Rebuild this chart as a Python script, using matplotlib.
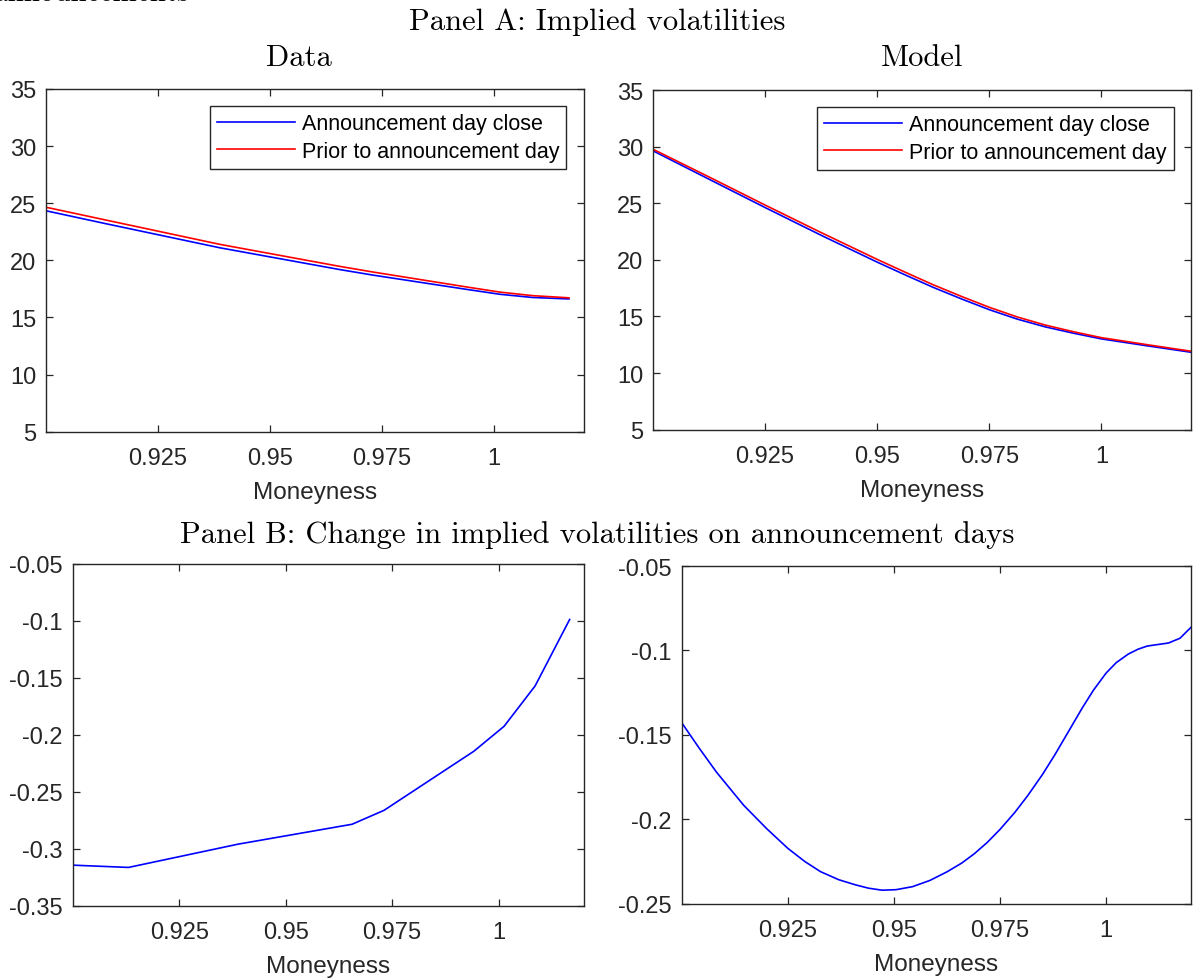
import matplotlib
matplotlib.use("Agg")
import matplotlib.pyplot as plt

# =========================
# DATA
# =========================
# Panel A, data
mny_data = [0.9, 0.9131, 0.9388, 0.9656, 0.9731, 0.9942, 1.0013, 1.0086, 1.0167]
iv_data_close = [24.34, 23.23, 21.10, 19.19, 18.70, 17.44, 17.03, 16.75, 16.62]
iv_data_prior = [24.65, 23.55, 21.40, 19.47, 18.97, 17.65, 17.22, 16.91, 16.72]

# Panel A, model
mny_model = [0.9, 0.9125, 0.925, 0.9375, 0.95, 0.9563, 0.9625, 0.9688, 0.975,
             0.9813, 0.9875, 0.9938, 1.0, 1.01, 1.02]
iv_model_close = [29.63, 27.12, 24.62, 22.17, 19.80, 18.66, 17.57, 16.55, 15.60,
                  14.76, 14.08, 13.52, 13.02, 12.42, 11.84]
iv_model_prior = [29.77, 27.32, 24.84, 22.41, 20.04, 18.90, 17.80, 16.77, 15.81,
                  14.95, 14.24, 13.65, 13.13, 12.52, 11.93]

# Panel B, change on announcement days
d_iv_data = [-0.3144, -0.3164, -0.2960, -0.2785, -0.2663, -0.2144, -0.1925, -0.1570, -0.0987]

mny_model_b = [0.9, 0.9041, 0.9082, 0.9146, 0.92, 0.925, 0.929, 0.9327, 0.937, 0.9409,
               0.944, 0.9472, 0.9505, 0.9544, 0.9585, 0.9626, 0.966, 0.9689, 0.972, 0.975,
               0.9785, 0.9815, 0.985, 0.9879, 0.991, 0.9943, 0.997, 1.0, 1.0024, 1.0052,
               1.0075, 1.0097, 1.0147, 1.0174, 1.02]
d_iv_model = [-0.1428, -0.1578, -0.1721, -0.1917, -0.2055, -0.2172, -0.2250, -0.2310,
              -0.2358, -0.2388, -0.2408, -0.2420, -0.2417, -0.2399, -0.2362, -0.2310,
              -0.2259, -0.2205, -0.2137, -0.2060, -0.1959, -0.1861, -0.1735, -0.1619,
              -0.1486, -0.1344, -0.1236, -0.1134, -0.1072, -0.1022, -0.0993, -0.0974,
              -0.0956, -0.0928, -0.0863]

xticks = [0.925, 0.95, 0.975, 1.0]
xtick_labels = ["0.925", "0.95", "0.975", "1"]
yticks_a = [5, 10, 15, 20, 25, 30, 35]
yticks_a_labels = ["5", "10", "15", "20", "25", "30", "35"]
yticks_b_data = [-0.35, -0.3, -0.25, -0.2, -0.15, -0.1, -0.05]
yticks_b_data_labels = ["-0.35", "-0.3", "-0.25", "-0.2", "-0.15", "-0.1", "-0.05"]
yticks_b_model = [-0.25, -0.2, -0.15, -0.1, -0.05]
yticks_b_model_labels = ["-0.25", "-0.2", "-0.15", "-0.1", "-0.05"]

legend_labels = ["Announcement day close", "Prior to announcement day"]

# =========================
# STYLE
# =========================
W, H = 1193, 979
dark = (0.15, 0.15, 0.15)
sans = "Liberation Sans"
serif = "cmr10"
plt.rcParams["font.family"] = sans


def px_box(left, top, right, bottom):
    return [left / W, 1 - bottom / H, (right - left) / W, (bottom - top) / H]


def style_axes(ax, yticks, ylabels, ylim):
    ax.set_xlim(0.9, 1.02)
    ax.set_ylim(*ylim)
    ax.set_xticks(xticks)
    ax.set_xticklabels(xtick_labels)
    ax.set_yticks(yticks)
    ax.set_yticklabels(ylabels)
    ax.tick_params(direction="in", length=5, width=0.9, colors=dark, labelsize=17,
                   top=True, right=True)
    ax.tick_params(axis="x", pad=11)
    ax.tick_params(axis="y", pad=7)
    for s in ax.spines.values():
        s.set_color(dark)
        s.set_linewidth(1.0)
    ax.set_xlabel("Moneyness", fontsize=17.5, color=dark, labelpad=8.5)


fig = plt.figure(figsize=(W / 100, H / 100), dpi=100)

ax1 = fig.add_axes(px_box(46, 90, 583.7, 432.7))
ax2 = fig.add_axes(px_box(653, 91, 1191, 430.7))
ax3 = fig.add_axes(px_box(72.7, 565, 583.7, 906.7))
ax4 = fig.add_axes(px_box(681.7, 567, 1191, 904.7))

ax1.plot(mny_data, iv_data_close, color="blue", lw=1.2, label=legend_labels[0])
ax1.plot(mny_data, iv_data_prior, color="red", lw=1.2, label=legend_labels[1])
ax2.plot(mny_model, iv_model_close, color="blue", lw=1.2, label=legend_labels[0])
ax2.plot(mny_model, iv_model_prior, color="red", lw=1.2, label=legend_labels[1])
ax3.plot(mny_data, d_iv_data, color="blue", lw=1.2)
ax4.plot(mny_model_b, d_iv_model, color="blue", lw=1.2)

style_axes(ax1, yticks_a, yticks_a_labels, (5, 35))
style_axes(ax2, yticks_a, yticks_a_labels, (5, 35))
style_axes(ax3, yticks_b_data, yticks_b_data_labels, (-0.35, -0.05))
style_axes(ax4, yticks_b_model, yticks_b_model_labels, (-0.25, -0.05))

for ax in (ax1, ax2):
    leg = ax.legend(loc="upper right", fontsize=15.5, handlelength=3.6, handletextpad=0.35,
                    labelspacing=0.32, borderpad=0.32, borderaxespad=0.8,
                    fancybox=False, framealpha=1)
    leg.get_frame().set_edgecolor(dark)
    leg.get_frame().set_linewidth(1.0)
    for t in leg.get_texts():
        t.set_color("black")

# titles in LaTeX-like serif
fig.text(597 / W, 1 - 22 / H, "Panel A: Implied volatilities", family=serif,
         fontsize=22, ha="center", va="center")
fig.text(299 / W, 1 - 58 / H, "Data", family=serif, fontsize=22, ha="center", va="center")
fig.text(922 / W, 1 - 58 / H, "Model", family=serif, fontsize=22, ha="center", va="center")
fig.text(597 / W, 1 - 535 / H, "Panel B: Change in implied volatilities on announcement days",
         family=serif, fontsize=22, ha="center", va="center")
# caption line cut off at the top edge
fig.text(190 / W, 1 - 1 / H, "announcements", family=serif, fontsize=21, weight="bold",
         ha="right", va="baseline")

fig.savefig("out.png", dpi=100)
plt.close(fig)
